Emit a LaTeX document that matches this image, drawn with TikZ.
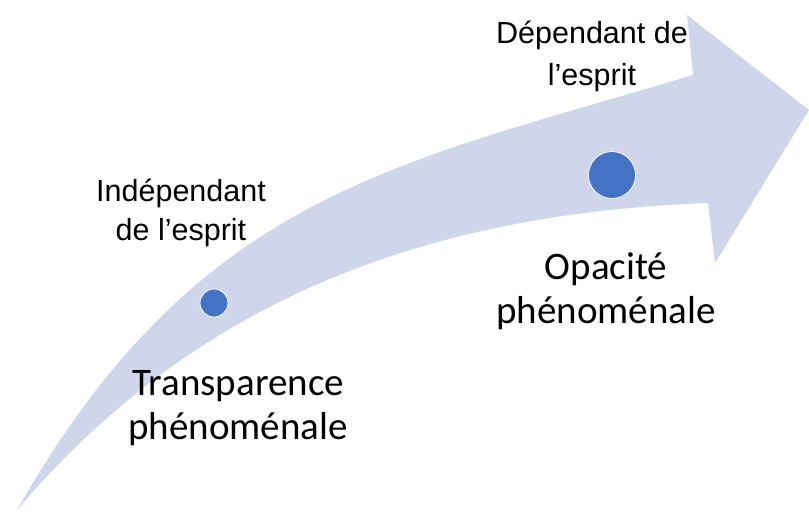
\documentclass[tikz,border=0pt]{standalone}
\usepackage{fontspec}
\setmainfont{Carlito}
\newfontfamily\labelfont{Liberation Sans}
\definecolor{bandfill}{HTML}{CFD5EA}
\definecolor{dotblue}{HTML}{4472C4}

\begin{document}
\begin{tikzpicture}[x=1pt,y=-1pt,
	dot/.style={circle, fill=dotblue, draw=white, line width=0.8pt, inner sep=0pt},
	smalltext/.style={align=center, inner sep=0pt, font=\labelfont\fontsize{30.5}{39}\selectfont},
	bigtext/.style={align=center, inner sep=0pt, font=\fontsize{39}{44}\selectfont}]
	\useasboundingbox (0,0) rectangle (809,512);
	\fill [bandfill] (17,510) .. controls (197,194) and (393,165) .. (693,75) -- (687,15) -- (809,110) -- (715,263) -- (708,203) .. controls (380,215) and (170,330) .. (17,510) -- cycle;
	\node (indep) [dot, minimum size=28pt] at (214,303) {};
	\node (dep) [dot, minimum size=47pt] at (612,175) {};
	\node (indeptext) [smalltext] at (181,213) {Indépendant\\de l’esprit};
	\node (deptext) [smalltext] at (592,56) {Dépendant de\\[3pt]l’esprit};
	\node (transp) [bigtext] at (238,408) {Transparence\\phénoménale};
	\node (opac) [bigtext] at (606,291) {Opacité\\phénoménale};
\end{tikzpicture}
\end{document}
